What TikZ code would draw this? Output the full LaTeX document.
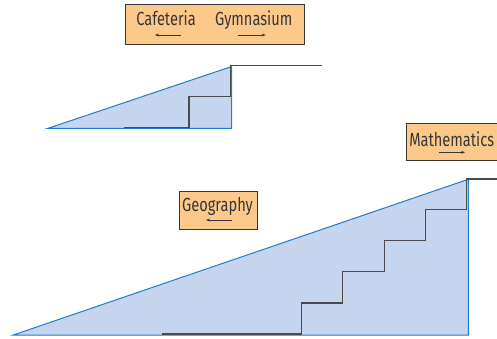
\documentclass[tikz,border=0pt]{standalone}
\usepackage{fontspec}
\setmainfont{Fira Sans}
\usetikzlibrary{arrows.meta}
\definecolor{signfill}{RGB}{253,201,138}
\definecolor{rampfill}{RGB}{198,213,238}
\definecolor{rampedge}{RGB}{32,124,204}
\definecolor{inkgray}{RGB}{55,55,55}
\newcommand{\condtxt}[1]{\scalebox{0.77}[1]{\fontsize{19}{20}\selectfont #1}}
\tikzset{
  sign/.style={draw=inkgray, line width=0.9pt, fill=signfill, inner sep=0pt, rectangle},
  signtext/.style={anchor=base, inner sep=0pt, text=inkgray, font=\fontsize{19}{20}\selectfont},
  signarrow/.style={draw=inkgray, line width=0.7pt, -{Stealth[length=4pt,width=3pt]}},
  ramp/.style={fill=rampfill, draw=rampedge, line width=1pt, line join=miter},
  stairs/.style={draw=inkgray!90, line width=1.4pt, line join=miter}
}
\begin{document}
\begin{tikzpicture}[x=1pt,y=-1pt]
\useasboundingbox (0,0) rectangle (497,339);
% upper ramp
\fill[rampfill] (47.5,128.5) -- (231.7,128.5) -- (231.7,66.5) -- cycle;
\draw[ramp, fill=none] (231.7,66.5) -- (47.5,128.5) -- (231.7,128.5) -- (231.7,66.5);
\draw[stairs] (321.7,65.8) -- (230.7,65.8) -- (230.7,96.7) -- (189,96.7) -- (189,127.7) -- (124.3,127.7);
% lower ramp
\fill[rampfill] (13.3,335) -- (468.3,335) -- (468.3,179.3) -- cycle;
\draw[ramp, fill=none] (468.3,179.3) -- (13.3,335) -- (468.3,335) -- (468.3,179.3);
\draw[stairs] (497,179) -- (466.7,179) -- (466.7,209.3) -- (425.7,209.3) -- (425.7,240.3) -- (384.3,240.3) -- (384.3,271.7) -- (342.7,271.7) -- (342.7,303) -- (301.7,303) -- (301.7,334) -- (161.7,334);
% top sign
\node[sign, minimum width=179.3pt, minimum height=40.3pt] (topsign) at (214.7,24.2) {};
\node[signtext] (caf) at (166,26) {\condtxt{Cafeteria}};
\node[signtext] (gym) at (253.7,26) {\condtxt{Gymnasium}};
\coordinate (cafA) at (180.7,35);
\coordinate (cafB) at (155,35);
\coordinate (gymA) at (238.3,35);
\coordinate (gymB) at (265.7,35);
\draw[signarrow] (cafA) -- (cafB);
\draw[signarrow] (gymA) -- (gymB);
% geography sign
\node[sign, minimum width=78.4pt, minimum height=37.6pt] (geosign) at (218.5,210.5) {};
\node[signtext] (geo) at (217.5,211.7) {\condtxt{Geography}};
\coordinate (geoA) at (232.3,220);
\coordinate (geoB) at (206,220);
\draw[signarrow] (geoA) -- (geoB);
% mathematics sign
\node[sign, minimum width=92pt, minimum height=37.4pt] (mathsign) at (452,142) {};
\node[signtext] (math) at (451.7,146.7) {\condtxt{Mathematics}};
\coordinate (mathA) at (439.3,152.3);
\coordinate (mathB) at (465,152.3);
\draw[signarrow] (mathA) -- (mathB);
\end{tikzpicture}
\end{document}
